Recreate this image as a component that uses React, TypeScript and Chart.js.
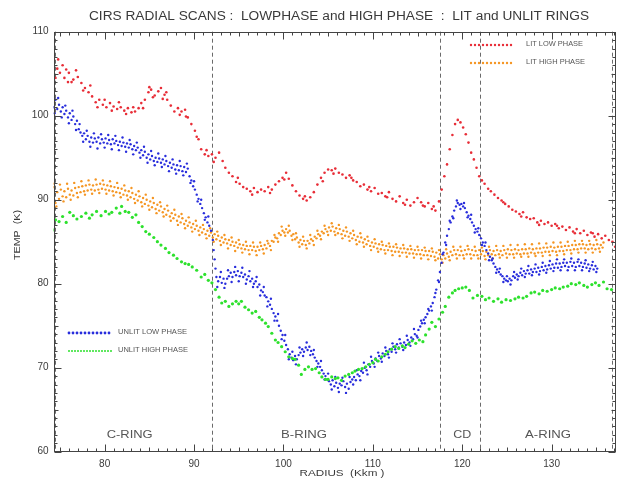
import React, { useEffect, useRef } from 'react';
import { Chart, registerables } from 'chart.js';

Chart.register(...registerables);

const X_MIN = 74.28;
const X_MAX = 137.2;
const Y_MIN = 60;
const Y_MAX = 110;
const xTicks = [80, 90, 100, 110, 120, 130];
const yTicks = [60, 70, 80, 90, 100, 110];
const ringEdges = [74.5, 92.0, 117.5, 122.0, 136.8];
const ringNames = ['C-RING', 'B-RING', 'CD', 'A-RING'];
const ringLabelX = [82.8, 102.3, 120.0, 129.6];
const ringLabelY = 62.0;

const titleText = 'CIRS RADIAL SCANS :  LOWPHASE and HIGH PHASE  :  LIT and UNLIT RINGS';
const xTitle = 'RADIUS  (Kkm )';
const yTitle = 'TEMP  (K)';
const seriesNames = ['LIT LOW PHASE', 'LIT HIGH PHASE', 'UNLIT LOW PHASE', 'UNLIT HIGH PHASE'];
const seriesColors = ['rgb(232,45,55)', 'rgb(245,150,35)', 'rgb(40,45,220)', 'rgb(45,225,45)'];

// [radius (1000 km), temperature (K)]
const litLowPhase: number[][] = [
  [74.5, 104.5], [74.8, 106.7], [75.0, 105.1], [75.3, 106.0], [75.5, 104.5], [75.7, 105.5], [76.0, 105.1], [76.3, 104.0], [76.5, 104.3],
  [77.0, 104.6], [77.4, 103.9], [77.8, 103.3], [78.2, 102.8], [78.6, 102.3], [79.0, 101.6], [79.4, 101.9], [79.8, 101.3],
  [80.2, 101.0], [80.6, 101.5], [81.0, 101.1], [81.4, 100.8], [81.8, 101.0], [82.2, 100.6], [82.6, 100.9], [83.0, 100.4],
  [83.4, 100.5], [83.8, 100.9], [84.1, 101.5], [84.5, 101.9], [84.9, 102.8], [85.2, 103.1], [85.6, 102.4], [86.0, 102.9],
  [86.3, 103.3], [86.7, 102.5], [87.0, 101.9], [87.4, 101.2], [87.8, 100.5], [88.2, 100.9], [88.6, 100.5], [89.0, 100.7],
  [89.3, 99.8], [89.7, 99.0], [90.1, 98.2], [90.5, 97.2], [90.8, 96.0], [91.2, 95.4], [91.6, 95.2], [92.0, 95.4],
  [92.4, 95.0], [92.8, 95.6], [93.2, 94.6], [93.5, 93.8], [93.9, 93.2], [94.3, 92.8], [94.7, 92.1], [95.1, 91.9],
  [95.5, 91.5], [95.9, 91.3], [96.3, 91.0], [96.7, 91.4], [97.1, 90.9], [97.5, 91.2], [97.9, 91.0], [98.3, 91.5],
  [98.7, 91.2], [99.1, 91.8], [99.5, 92.2], [99.9, 92.6], [100.3, 93.2], [100.6, 92.5], [101.0, 91.7], [101.4, 91.0],
  [101.8, 90.5], [102.2, 90.1], [102.6, 89.9], [103.0, 90.3], [103.4, 90.9], [103.8, 91.8], [104.2, 92.6], [104.6, 93.2],
  [105.0, 93.6], [105.4, 93.5], [105.8, 93.7], [106.2, 93.2], [106.6, 93.0], [107.0, 92.6], [107.4, 92.9], [107.8, 92.3],
  [108.2, 92.1], [108.6, 91.6], [109.0, 91.8], [109.4, 91.2], [109.8, 91.0], [110.2, 91.4], [110.6, 90.7], [111.0, 90.8],
  [111.4, 90.4], [111.8, 90.9], [112.2, 90.1], [112.6, 89.8], [113.0, 90.4], [113.4, 89.6], [113.8, 90.0], [114.2, 89.3],
  [114.6, 89.7], [115.0, 90.2], [115.4, 89.7], [115.8, 89.2], [116.2, 89.6], [116.6, 88.9], [117.0, 88.7], [117.4, 89.8],
  [117.7, 91.2], [118.0, 92.8], [118.3, 94.2], [118.6, 96.0], [118.9, 97.7], [119.2, 99.0], [119.5, 99.5], [119.8, 99.2],
  [120.1, 98.6], [120.4, 97.8], [120.7, 96.8], [121.0, 95.6], [121.3, 94.8], [121.6, 93.8], [121.9, 92.8], [122.2, 92.3],
  [122.5, 91.9], [122.9, 91.3], [123.2, 91.0], [123.6, 90.6], [124.0, 90.2], [124.4, 89.9], [124.8, 89.5], [125.2, 89.2],
  [125.6, 88.8], [126.0, 88.6], [126.4, 88.3], [126.8, 88.5], [127.2, 87.9], [127.6, 87.7], [128.0, 87.8], [128.4, 87.3],
  [128.8, 87.5], [129.2, 87.1], [129.6, 87.3], [130.0, 86.9], [130.4, 87.1], [130.8, 86.6], [131.2, 86.8], [131.6, 86.4],
  [132.0, 86.7], [132.4, 86.2], [132.8, 86.5], [133.2, 86.0], [133.6, 86.3], [134.0, 85.8], [134.4, 86.1], [134.8, 85.6],
  [135.2, 85.9], [135.6, 85.4], [136.0, 85.7], [136.4, 85.2], [136.8, 85.0], [137.1, 84.4],
];

const litLowPhaseScatter: number[][] = [
  [74.7, 105.6], [75.9, 104.0], [76.8, 105.4], [77.6, 103.0], [78.4, 103.6], [79.2, 101.0], [80.0, 101.9], [80.8, 100.6],
  [81.6, 101.6], [82.4, 100.2], [83.2, 101.0], [84.3, 100.9], [85.0, 103.4], [85.4, 102.2], [86.5, 102.0], [86.9, 102.8],
  [88.4, 100.1], [89.1, 99.9], [90.3, 97.5], [91.4, 95.9], [92.2, 94.5], [94.9, 92.6], [96.5, 90.6], [98.5, 90.8],
  [100.1, 92.4], [102.4, 90.4], [104.4, 92.2], [105.6, 93.1], [107.6, 92.6], [109.6, 91.5], [111.6, 90.3], [113.6, 89.4],
  [115.6, 89.3], [116.8, 89.2], [124.6, 89.7], [126.6, 88.0], [128.6, 87.0], [130.6, 86.9], [132.6, 86.0], [134.6, 86.0],
];

const litHighPhase: number[][] = [
  [74.1, 90.2], [74.3, 91.5], [74.5, 89.6], [74.7, 90.9], [74.9, 90.1], [75.1, 91.2], [75.3, 90.4], [75.5, 91.0], [75.7, 90.3],
  [75.9, 91.3], [76.1, 90.6], [76.3, 91.1], [76.5, 90.5], [76.7, 91.4], [76.9, 90.8], [77.1, 91.5], [77.3, 90.9], [77.5, 91.6],
  [77.7, 91.0], [77.9, 91.7], [78.1, 91.1], [78.3, 91.8], [78.5, 91.2], [78.7, 91.7], [78.9, 91.1], [79.1, 91.8], [79.3, 91.2],
  [79.5, 91.9], [79.7, 91.3], [79.9, 91.8], [80.1, 91.2], [80.3, 91.7], [80.5, 91.1], [80.7, 91.6], [80.9, 91.0], [81.1, 91.5],
  [81.3, 90.9], [81.5, 91.4], [81.7, 90.8], [81.9, 91.3], [82.1, 90.6], [82.3, 91.1], [82.5, 90.5], [82.7, 91.0], [82.9, 90.3],
  [83.1, 90.8], [83.3, 90.1], [83.5, 90.6], [83.7, 89.9], [83.9, 90.4], [84.1, 89.7], [84.3, 90.2], [84.5, 89.5], [84.7, 90.0],
  [84.9, 89.3], [85.1, 89.8], [85.3, 89.1], [85.5, 89.6], [85.7, 88.9], [85.9, 89.4], [86.1, 88.7], [86.3, 89.2], [86.5, 88.5],
  [86.7, 88.9], [86.9, 88.2], [87.1, 88.7], [87.3, 88.0], [87.5, 88.4], [87.7, 87.8], [87.9, 88.2], [88.1, 87.5], [88.3, 88.0],
  [88.5, 87.3], [88.7, 87.8], [88.9, 87.1], [89.1, 87.5], [89.3, 86.9], [89.5, 87.3], [89.7, 86.7], [89.9, 87.1], [90.1, 86.5],
  [90.3, 86.9], [90.5, 86.3], [90.7, 86.7], [90.9, 86.1], [91.1, 86.5], [91.3, 85.9], [91.5, 86.3], [91.7, 85.7], [91.9, 86.1],
  [92.1, 85.5], [92.3, 85.9], [92.5, 85.3], [92.7, 85.7], [92.9, 85.1], [93.1, 85.5], [93.3, 84.9], [93.5, 85.3], [93.7, 84.8],
  [93.9, 85.2], [94.1, 84.6], [94.3, 85.0], [94.5, 84.5], [94.7, 84.9], [94.9, 84.3], [95.1, 84.7], [95.3, 84.2], [95.5, 84.6],
  [95.7, 84.1], [95.9, 84.5], [96.1, 84.0], [96.3, 84.5], [96.5, 84.0], [96.7, 84.4], [96.9, 83.9], [97.1, 84.4], [97.3, 84.0],
  [97.5, 84.5], [97.7, 84.1], [97.9, 84.6], [98.1, 84.2], [98.3, 84.8], [98.5, 84.5], [98.7, 85.1], [98.9, 85.0], [99.1, 85.5],
  [99.3, 85.4], [99.5, 86.0], [99.7, 85.8], [99.9, 86.3], [100.1, 86.1], [100.3, 86.5], [100.5, 86.1], [100.7, 86.3], [100.9, 85.7],
  [101.1, 85.9], [101.3, 85.3], [101.5, 85.5], [101.7, 84.9], [101.9, 85.2], [102.1, 84.7], [102.3, 85.1], [102.5, 84.6], [102.7, 85.1],
  [102.9, 84.8], [103.1, 85.3], [103.3, 85.1], [103.5, 85.6], [103.7, 85.4], [103.9, 85.9], [104.1, 85.7], [104.3, 86.2], [104.5, 86.0],
  [104.7, 86.5], [104.9, 86.2], [105.1, 86.7], [105.3, 86.3], [105.5, 86.8], [105.7, 86.2], [105.9, 86.6], [106.1, 86.0], [106.3, 86.5],
  [106.5, 85.9], [106.7, 86.3], [106.9, 85.7], [107.1, 86.2], [107.3, 85.6], [107.5, 86.0], [107.7, 85.4], [107.9, 85.8], [108.1, 85.2],
  [108.3, 85.6], [108.5, 85.0], [108.7, 85.5], [108.9, 84.9], [109.1, 85.3], [109.3, 84.7], [109.5, 85.1], [109.7, 84.5], [109.9, 84.9],
  [110.1, 84.4], [110.3, 84.8], [110.5, 84.2], [110.7, 84.7], [110.9, 84.1], [111.1, 84.6], [111.3, 84.0], [111.5, 84.5], [111.7, 84.0],
  [111.9, 84.4], [112.1, 83.9], [112.3, 84.4], [112.5, 83.8], [112.7, 84.3], [112.9, 83.8], [113.1, 84.2], [113.3, 83.7], [113.5, 84.2],
  [113.7, 83.7], [113.9, 84.1], [114.1, 83.6], [114.3, 84.1], [114.5, 83.6], [114.7, 84.0], [114.9, 83.5], [115.1, 84.0], [115.3, 83.5],
  [115.5, 84.0], [115.7, 83.4], [115.9, 83.9], [116.1, 83.4], [116.3, 83.9], [116.5, 83.3], [116.7, 83.8], [116.9, 83.2], [117.1, 83.7],
  [117.3, 83.0], [117.5, 83.5], [117.7, 82.9], [117.9, 83.4], [118.1, 83.0], [118.3, 83.6], [118.5, 83.2], [118.7, 83.8], [118.9, 83.4],
  [119.1, 84.0], [119.3, 83.5], [119.5, 84.0], [119.7, 83.4], [119.9, 83.9], [120.1, 83.4], [120.3, 84.0], [120.5, 83.5], [120.7, 84.1],
  [120.9, 83.5], [121.1, 84.0], [121.3, 83.4], [121.5, 83.9], [121.7, 83.4], [121.9, 84.0], [122.1, 83.5], [122.3, 83.9], [122.5, 83.3],
  [122.7, 83.8], [122.9, 83.4], [123.1, 84.0], [123.3, 83.5], [123.5, 83.9], [123.7, 83.4], [123.9, 84.0], [124.1, 83.5], [124.3, 83.9],
  [124.5, 83.4], [124.7, 84.0], [124.9, 83.6], [125.1, 84.1], [125.3, 83.5], [125.5, 84.0], [125.7, 83.5], [125.9, 84.1], [126.1, 83.6],
  [126.3, 84.0], [126.5, 83.5], [126.7, 84.1], [126.9, 83.6], [127.1, 84.1], [127.3, 83.6], [127.5, 84.2], [127.7, 83.7], [127.9, 84.1],
  [128.1, 83.6], [128.3, 84.2], [128.5, 83.7], [128.7, 84.2], [128.9, 83.7], [129.1, 84.3], [129.3, 83.8], [129.5, 84.3], [129.7, 83.8],
  [129.9, 84.4], [130.1, 83.9], [130.3, 84.3], [130.5, 83.8], [130.7, 84.4], [130.9, 83.9], [131.1, 84.4], [131.3, 83.9], [131.5, 84.5],
  [131.7, 84.0], [131.9, 84.5], [132.1, 84.0], [132.3, 84.6], [132.5, 84.1], [132.7, 84.6], [132.9, 84.1], [133.1, 84.7], [133.3, 84.2],
  [133.5, 84.7], [133.7, 84.2], [133.9, 84.6], [134.1, 84.1], [134.3, 84.7], [134.5, 84.2], [134.7, 84.6], [134.9, 84.1], [135.1, 84.7],
  [135.3, 84.2], [135.5, 84.6], [135.7, 84.3],
];

const litHighPhaseScatter: number[][] = [
  [74.2, 91.9], [74.6, 89.2], [75.0, 91.8], [75.4, 89.8], [75.8, 91.9], [76.2, 90.0], [76.6, 92.0], [77.0, 90.3], [77.4, 92.2],
  [77.8, 90.6], [78.2, 92.3], [78.6, 90.7], [79.0, 92.4], [79.4, 90.8], [79.8, 92.3], [80.2, 90.7], [80.6, 92.2], [81.0, 90.5],
  [81.4, 92.0], [81.8, 90.3], [82.2, 91.7], [82.6, 90.0], [83.0, 91.4], [83.4, 89.6], [83.8, 91.0], [84.2, 89.2], [84.6, 90.6],
  [85.0, 88.8], [85.4, 90.2], [85.8, 88.4], [86.2, 89.7], [86.6, 88.0], [87.0, 89.3], [87.4, 87.5], [87.8, 88.8], [88.2, 87.0],
  [88.6, 88.3], [89.0, 86.6], [89.4, 87.9], [89.8, 86.2], [90.2, 87.5], [90.6, 85.8], [91.0, 87.0], [91.4, 85.4], [91.8, 86.6],
  [92.2, 85.0], [92.6, 86.2], [93.0, 84.6], [93.4, 85.8], [93.8, 84.2], [94.2, 85.5], [94.6, 83.9], [95.0, 85.2], [95.4, 83.7],
  [95.8, 85.0], [96.2, 83.5], [96.6, 84.9], [97.0, 83.4], [97.4, 84.9], [97.8, 83.6], [98.2, 85.1], [98.6, 84.0], [99.0, 85.8],
  [99.4, 85.0], [99.8, 86.8], [100.2, 85.7], [100.6, 86.9], [101.0, 85.2], [101.4, 86.0], [101.8, 84.4], [102.2, 85.6], [102.6, 84.2],
  [103.0, 85.8], [103.4, 84.6], [103.8, 86.3], [104.2, 85.3], [104.6, 86.9], [105.0, 85.8], [105.4, 87.2], [105.8, 85.8], [106.2, 87.0],
  [106.6, 85.4], [107.0, 86.7], [107.4, 85.1], [107.8, 86.3], [108.2, 84.7], [108.6, 86.0], [109.0, 84.4], [109.4, 85.6], [109.8, 84.0],
  [110.2, 85.3], [110.6, 83.8], [111.0, 85.0], [111.4, 83.6], [111.8, 84.8], [112.2, 83.4], [112.6, 84.7], [113.0, 83.3], [113.4, 84.6],
  [113.8, 83.2], [114.2, 84.5], [114.6, 83.1], [115.0, 84.4], [115.4, 83.0], [115.8, 84.3], [116.2, 82.9], [116.6, 84.2], [117.0, 82.8],
  [117.4, 84.0], [117.8, 82.5], [118.2, 84.1], [118.6, 82.8], [119.0, 84.4], [119.4, 83.0], [119.8, 84.4], [120.2, 83.0], [120.6, 84.5],
  [121.0, 83.0], [121.4, 84.4], [121.8, 83.0], [122.2, 84.3], [122.6, 82.9], [123.0, 84.4], [123.4, 83.0], [123.8, 84.5], [124.2, 83.1],
  [124.6, 84.5], [125.0, 83.1], [125.4, 84.6], [125.8, 83.1], [126.2, 84.6], [126.6, 83.2], [127.0, 84.7], [127.4, 83.2], [127.8, 84.7],
  [128.2, 83.3], [128.6, 84.8], [129.0, 83.3], [129.4, 84.8], [129.8, 83.4], [130.2, 84.9], [130.6, 83.4], [131.0, 84.9], [131.4, 83.5],
  [131.8, 85.0], [132.2, 83.6], [132.6, 85.1], [133.0, 83.7], [133.4, 85.1], [133.8, 83.7], [134.2, 85.1], [134.6, 83.7], [135.0, 85.2],
  [135.4, 83.8], [135.8, 84.9],
];

const unlitLowPhase: number[][] = [
  [74.1, 101.6], [74.3, 101.0], [74.5, 101.9], [74.7, 100.8], [74.9, 101.3], [75.1, 100.5], [75.3, 101.0], [75.5, 100.2], [75.7, 100.6],
  [75.9, 99.8], [76.1, 100.3], [76.3, 99.5], [76.5, 99.9], [76.7, 99.0], [76.9, 99.4], [77.1, 98.4], [77.3, 98.0], [77.5, 97.6],
  [77.7, 97.9], [77.9, 97.2], [78.1, 97.6], [78.3, 96.9], [78.5, 97.4], [78.7, 96.8], [78.9, 97.3], [79.1, 96.9], [79.3, 97.4],
  [79.5, 96.7], [79.7, 97.2], [79.9, 96.8], [80.1, 97.3], [80.3, 96.7], [80.5, 97.1], [80.7, 96.6], [80.9, 97.2], [81.1, 96.7],
  [81.3, 97.0], [81.5, 96.5], [81.7, 96.9], [81.9, 96.4], [82.1, 96.8], [82.3, 96.3], [82.5, 96.7], [82.7, 96.2], [82.9, 96.6],
  [83.1, 96.0], [83.3, 96.4], [83.5, 95.9], [83.7, 96.2], [83.9, 95.6], [84.1, 95.9], [84.3, 95.3], [84.5, 95.7], [84.7, 95.0],
  [84.9, 95.4], [85.1, 94.8], [85.3, 95.2], [85.5, 94.6], [85.7, 95.0], [85.9, 94.5], [86.1, 94.9], [86.3, 94.4], [86.5, 94.8],
  [86.7, 94.2], [86.9, 94.6], [87.1, 94.0], [87.3, 94.4], [87.5, 93.8], [87.7, 94.2], [87.9, 93.6], [88.1, 94.1], [88.3, 93.5],
  [88.5, 94.0], [88.7, 93.4], [88.9, 93.9], [89.1, 93.3], [89.3, 93.7], [89.5, 92.8], [89.7, 92.3], [89.9, 91.6], [90.1, 91.2],
  [90.3, 90.6], [90.5, 90.1], [90.7, 89.5], [90.9, 89.0], [91.1, 88.4], [91.3, 87.9], [91.5, 87.3], [91.7, 86.9], [91.9, 86.3],
  [92.1, 85.2], [92.2, 84.0], [92.3, 82.9], [92.4, 81.8], [92.5, 80.8], [92.7, 80.3], [92.9, 80.8], [93.1, 80.1], [93.3, 80.6],
  [93.5, 80.0], [93.7, 80.6], [93.9, 80.9], [94.1, 81.3], [94.3, 80.8], [94.5, 81.4], [94.7, 81.0], [94.9, 81.5], [95.1, 80.9],
  [95.3, 81.3], [95.5, 80.8], [95.7, 81.1], [95.9, 80.5], [96.1, 80.9], [96.3, 80.3], [96.5, 80.6], [96.7, 80.0], [96.9, 80.3],
  [97.1, 79.6], [97.3, 79.9], [97.5, 79.2], [97.7, 79.0], [97.9, 78.6], [98.1, 78.4], [98.3, 77.9], [98.5, 77.5], [98.7, 77.0],
  [98.9, 76.5], [99.1, 76.1], [99.3, 75.6], [99.5, 75.0], [99.7, 74.4], [99.9, 73.9], [100.1, 73.2], [100.3, 72.7], [100.5, 72.2],
  [100.7, 71.6], [100.9, 71.2], [101.1, 70.9], [101.3, 71.4], [101.5, 71.0], [101.7, 71.5], [101.9, 71.8], [102.1, 72.2], [102.3, 71.9],
  [102.5, 72.4], [102.7, 72.1], [102.9, 72.5], [103.1, 72.0], [103.3, 71.6], [103.5, 71.2], [103.7, 70.8], [103.9, 70.5], [104.1, 70.1],
  [104.3, 69.7], [104.5, 69.3], [104.7, 69.0], [104.9, 68.6], [105.1, 68.4], [105.3, 68.0], [105.5, 68.5], [105.7, 67.8], [105.9, 68.2],
  [106.1, 67.6], [106.3, 68.1], [106.5, 67.9], [106.7, 68.4], [106.9, 67.7], [107.1, 68.1], [107.3, 67.5], [107.5, 68.3], [107.7, 68.6],
  [107.9, 68.9], [108.1, 68.5], [108.3, 69.2], [108.5, 69.0], [108.7, 69.6], [108.9, 69.4], [109.1, 70.0], [109.3, 69.7], [109.5, 70.4],
  [109.7, 70.1], [109.9, 70.8], [110.1, 70.5], [110.3, 71.1], [110.5, 70.8], [110.7, 71.4], [110.9, 71.1], [111.1, 71.7], [111.3, 71.4],
  [111.5, 72.0], [111.7, 71.6], [111.9, 72.2], [112.1, 71.9], [112.3, 72.5], [112.5, 72.2], [112.7, 72.8], [112.9, 72.4], [113.1, 72.9],
  [113.3, 72.5], [113.5, 73.0], [113.7, 72.7], [113.9, 73.3], [114.1, 73.0], [114.3, 73.6], [114.5, 73.4], [114.7, 74.0], [114.9, 73.8],
  [115.1, 74.5], [115.3, 74.9], [115.5, 75.3], [115.7, 75.7], [115.9, 76.0], [116.1, 76.4], [116.3, 76.8], [116.5, 77.3], [116.7, 77.7],
  [116.9, 78.4], [117.1, 79.3], [117.3, 80.4], [117.5, 81.4], [117.7, 82.5], [117.9, 83.7], [118.1, 84.9], [118.3, 85.7], [118.5, 86.5],
  [118.7, 87.3], [118.9, 88.0], [119.1, 88.7], [119.3, 89.2], [119.5, 89.6], [119.7, 89.4], [119.9, 89.5], [120.1, 89.2], [120.3, 89.0],
  [120.5, 88.5], [120.7, 88.1], [120.9, 87.7], [121.1, 87.3], [121.3, 86.9], [121.5, 86.5], [121.7, 86.2], [121.9, 85.8], [122.1, 85.4],
  [122.3, 84.9], [122.5, 84.5], [122.7, 84.0], [122.9, 83.6], [123.1, 83.2], [123.3, 82.8], [123.5, 82.4], [123.7, 82.0], [123.9, 81.7],
  [124.1, 81.4], [124.3, 81.1], [124.5, 80.9], [124.7, 80.6], [124.9, 80.4], [125.1, 80.3], [125.3, 80.6], [125.5, 80.4], [125.7, 80.9],
  [125.9, 80.7], [126.1, 81.1], [126.3, 80.9], [126.5, 81.3], [126.7, 81.0], [126.9, 81.5], [127.1, 81.2], [127.3, 81.6], [127.5, 81.2],
  [127.7, 81.7], [127.9, 81.4], [128.1, 81.8], [128.3, 81.4], [128.5, 81.9], [128.7, 81.5], [128.9, 82.0], [129.1, 81.6], [129.3, 82.1],
  [129.5, 81.7], [129.7, 82.2], [129.9, 81.8], [130.1, 82.3], [130.3, 81.9], [130.5, 82.4], [130.7, 81.9], [130.9, 82.4], [131.1, 82.0],
  [131.3, 82.5], [131.5, 82.1], [131.7, 82.5], [131.9, 82.0], [132.1, 82.6], [132.3, 82.1], [132.5, 82.5], [132.7, 82.0], [132.9, 82.6],
  [133.1, 82.1], [133.3, 82.5], [133.5, 82.0], [133.7, 82.4], [133.9, 81.9], [134.1, 82.3], [134.3, 81.8], [134.5, 82.2], [134.7, 81.7],
  [134.9, 82.1], [135.1, 81.8],
];

const unlitLowPhaseScatter: number[][] = [
  [74.4, 100.3], [74.8, 102.1], [75.2, 99.8], [75.6, 101.2], [76.0, 99.1], [76.4, 100.6], [76.8, 98.3], [77.2, 99.0], [77.6, 96.9],
  [78.0, 98.2], [78.4, 96.3], [78.8, 97.9], [79.2, 96.1], [79.6, 97.8], [80.0, 96.2], [80.4, 97.7], [80.8, 96.0], [81.2, 97.6],
  [81.6, 95.9], [82.0, 97.4], [82.4, 95.7], [82.8, 97.1], [83.2, 95.4], [83.6, 96.8], [84.0, 95.0], [84.4, 96.3], [84.8, 94.4],
  [85.2, 95.8], [85.6, 94.1], [86.0, 95.5], [86.4, 93.9], [86.8, 95.2], [87.2, 93.4], [87.6, 94.8], [88.0, 93.1], [88.4, 94.6],
  [88.8, 92.9], [89.2, 94.3], [89.6, 92.0], [90.0, 92.2], [90.4, 89.8], [90.8, 90.0], [91.2, 87.6], [91.6, 88.0], [92.6, 79.6],
  [93.0, 81.4], [93.4, 79.5], [93.8, 81.6], [94.2, 80.2], [94.6, 82.0], [95.0, 80.3], [95.4, 81.9], [95.8, 80.0], [96.2, 81.5],
  [96.6, 79.6], [97.0, 80.8], [97.4, 78.6], [97.8, 79.6], [98.2, 77.3], [98.6, 78.2], [99.0, 75.6], [99.4, 76.4], [99.8, 73.4],
  [100.2, 73.9], [100.6, 71.0], [101.0, 71.9], [101.4, 70.4], [101.8, 72.4], [102.2, 71.4], [102.6, 73.0], [103.0, 71.5], [103.4, 72.1],
  [103.8, 70.1], [104.2, 70.8], [104.6, 68.6], [105.0, 69.3], [105.4, 67.4], [105.8, 68.9], [106.2, 67.1], [106.6, 68.8], [107.0, 67.0],
  [107.4, 68.9], [107.8, 68.0], [108.2, 69.7], [108.6, 68.5], [109.0, 70.6], [109.4, 69.2], [109.8, 71.3], [110.2, 70.1], [110.6, 71.8],
  [111.0, 70.7], [111.4, 72.4], [111.8, 71.2], [112.2, 72.9], [112.6, 71.8], [113.0, 73.4], [113.4, 72.1], [113.8, 73.8], [114.2, 72.6],
  [114.6, 74.6], [115.0, 73.6], [115.4, 75.6], [115.8, 75.3], [116.2, 77.0], [116.6, 76.8], [117.0, 78.9], [117.4, 80.2], [117.8, 83.5],
  [118.2, 84.6], [118.6, 87.5], [119.0, 87.8], [119.4, 89.9], [119.8, 88.9], [120.2, 89.6], [120.6, 87.9], [121.0, 88.2], [121.4, 86.1],
  [121.8, 86.6], [122.2, 84.6], [122.6, 84.9], [123.0, 82.8], [123.4, 83.0], [123.8, 81.3], [124.2, 81.8], [124.6, 80.2], [125.0, 80.9],
  [125.4, 79.9], [125.8, 81.4], [126.2, 80.5], [126.6, 81.8], [127.0, 80.8], [127.4, 82.1], [127.8, 81.0], [128.2, 82.3], [128.6, 81.1],
  [129.0, 82.5], [129.4, 81.3], [129.8, 82.7], [130.2, 81.5], [130.6, 82.9], [131.0, 81.6], [131.4, 82.9], [131.8, 81.6], [132.2, 83.0],
  [132.6, 81.6], [133.0, 82.9], [133.4, 81.6], [133.8, 82.8], [134.2, 81.5], [134.6, 82.6], [135.0, 81.4],
];

const unlitHighPhase: number[][] = [
  [74.2, 86.4], [74.5, 87.6], [74.9, 87.4], [75.3, 88.0], [75.7, 87.3], [76.1, 88.5], [76.5, 88.1], [76.9, 87.7], [77.4, 88.0],
  [77.9, 88.4], [78.3, 87.8], [78.6, 88.2], [79.1, 88.6], [79.6, 88.1], [80.1, 88.6], [80.5, 88.3], [80.8, 88.5], [81.3, 89.0],
  [81.7, 88.4], [81.9, 89.2], [82.3, 88.6], [82.7, 88.5], [83.1, 87.9], [83.5, 88.2], [83.8, 87.3], [84.2, 86.8], [84.6, 86.2],
  [85.0, 85.9], [85.5, 85.5], [85.9, 85.0], [86.3, 84.6], [86.8, 84.2], [87.2, 83.7], [87.7, 83.4], [88.1, 83.0], [88.6, 82.6],
  [89.0, 82.4], [89.4, 82.3], [89.8, 82.0], [90.3, 81.6], [90.8, 80.8], [91.2, 81.1], [91.6, 80.4], [92.0, 80.1], [92.4, 79.3],
  [92.8, 78.4], [93.1, 77.7], [93.5, 77.9], [93.9, 77.3], [94.3, 77.6], [94.7, 77.9], [95.0, 77.6], [95.3, 77.9], [95.7, 77.2],
  [96.1, 76.9], [96.5, 76.5], [96.9, 76.7], [97.3, 76.0], [97.6, 75.7], [98.0, 75.3], [98.3, 74.9], [98.7, 74.1], [99.1, 73.3],
  [99.4, 73.0], [99.8, 72.5], [100.2, 71.9], [100.6, 71.3], [101.0, 71.1], [101.3, 71.0], [101.7, 70.3], [102.0, 69.2], [102.4, 69.8],
  [102.8, 70.1], [103.2, 69.8], [103.6, 69.9], [104.0, 69.4], [104.3, 68.9], [104.7, 68.6], [105.0, 68.6], [105.4, 68.9], [105.8, 68.7],
  [106.1, 68.8], [106.5, 68.5], [106.9, 69.0], [107.3, 69.2], [107.7, 69.4], [108.0, 69.6], [108.4, 69.8], [108.8, 69.9], [109.2, 70.1],
  [109.6, 70.4], [110.0, 70.6], [110.3, 71.0], [110.6, 70.8], [111.0, 71.3], [111.4, 71.6], [111.7, 71.9], [112.1, 72.2], [112.5, 72.5],
  [112.9, 72.3], [113.3, 72.6], [113.6, 72.4], [114.0, 72.8], [114.4, 73.2], [114.8, 72.9], [115.2, 73.3], [115.6, 73.1], [115.9, 73.9],
  [116.3, 74.6], [116.6, 75.4], [117.0, 74.9], [117.4, 75.8], [117.8, 76.6], [118.1, 77.3], [118.5, 78.4], [118.9, 78.9], [119.2, 79.2],
  [119.6, 79.4], [120.0, 79.5], [120.4, 79.6], [120.8, 79.2], [121.2, 78.3], [121.7, 78.6], [122.2, 78.5], [122.6, 78.1], [123.0, 78.3],
  [123.5, 77.9], [124.0, 78.2], [124.4, 77.8], [124.9, 78.1], [125.4, 78.0], [125.9, 78.2], [126.3, 78.4], [126.8, 78.3], [127.2, 78.5],
  [127.7, 78.9], [128.1, 79.0], [128.6, 78.8], [129.0, 79.2], [129.5, 79.1], [130.0, 79.3], [130.4, 79.5], [130.9, 79.4], [131.3, 79.6],
  [131.8, 79.7], [132.2, 80.0], [132.7, 79.9], [133.1, 80.1], [133.6, 79.8], [134.0, 79.6], [134.5, 79.9], [134.9, 80.1], [135.3, 79.8],
  [135.8, 80.2], [136.2, 79.4], [136.7, 79.3],
];

const FONT = '"Liberation Sans", Arial, sans-serif';
const INK = '#3a3a3a';

function fitText(ctx: CanvasRenderingContext2D, text: string, x: number, y: number, w: number, size: number, align: 'left' | 'center') {
  ctx.save();
  ctx.font = `${size}px ${FONT}`;
  const m = ctx.measureText(text).width || 1;
  const s = w / m;
  ctx.translate(x, y);
  ctx.scale(s, 1);
  ctx.textAlign = align;
  ctx.textBaseline = 'middle';
  ctx.fillText(text, 0, 0);
  ctx.restore();
}

function swatch(ctx: CanvasRenderingContext2D, x0: number, x1: number, y: number, color: string, r: number, step: number) {
  ctx.save();
  ctx.fillStyle = color;
  for (let x = x0; x <= x1; x += step) {
    ctx.beginPath();
    ctx.arc(x, y, r, 0, Math.PI * 2);
    ctx.fill();
  }
  ctx.restore();
}

const decorPlugin = {
  id: 'decor',
  beforeDraw(chart: any) {
    const { ctx, width, height } = chart;
    ctx.save();
    ctx.fillStyle = '#ffffff';
    ctx.fillRect(0, 0, width, height);
    ctx.restore();
  },
  beforeDatasetsDraw(chart: any) {
    const { ctx, chartArea: a, scales } = chart;
    const x = scales.x;
    ctx.save();
    ctx.strokeStyle = '#6a6a6a';
    ctx.lineWidth = 1;
    ctx.setLineDash([4, 3]);
    ringEdges.forEach((r) => {
      const px = Math.round(x.getPixelForValue(r)) + 0.5;
      ctx.beginPath();
      ctx.moveTo(px, a.top);
      ctx.lineTo(px, a.bottom);
      ctx.stroke();
    });
    ctx.restore();
  },
  afterDraw(chart: any) {
    const { ctx, chartArea: a, scales } = chart;
    const x = scales.x;
    const y = scales.y;
    ctx.save();
    ctx.strokeStyle = '#444';
    ctx.lineWidth = 1;
    const L = Math.round(a.left) + 0.5;
    const R = Math.round(a.right) - 0.5;
    const T = Math.round(a.top) + 0.5;
    const B = Math.round(a.bottom) - 0.5;
    ctx.strokeRect(L, T, R - L, B - T);
    ctx.beginPath();
    for (let v = Math.ceil(X_MIN); v <= Math.floor(X_MAX); v++) {
      const len = v % 10 === 0 ? 7 : v % 5 === 0 ? 4 : 3;
      const px = Math.round(x.getPixelForValue(v)) + 0.5;
      ctx.moveTo(px, B); ctx.lineTo(px, B - len);
      ctx.moveTo(px, T); ctx.lineTo(px, T + len);
    }
    for (let v = Y_MIN; v <= Y_MAX; v++) {
      const len = v % 10 === 0 ? 7 : v % 5 === 0 ? 4 : 3;
      const py = Math.round(y.getPixelForValue(v)) + 0.5;
      ctx.moveTo(L, py); ctx.lineTo(L + len, py);
      ctx.moveTo(R, py); ctx.lineTo(R - len, py);
    }
    ctx.stroke();
    ctx.restore();

    ctx.save();
    ctx.fillStyle = INK;
    fitText(ctx, titleText, 339, 17, 500, 12, 'center');
    fitText(ctx, xTitle, 342, 474, 85, 9, 'center');
    ctx.save();
    ctx.translate(18, 235);
    ctx.rotate(-Math.PI / 2);
    fitText(ctx, yTitle, 0, 0, 50, 9, 'center');
    ctx.restore();
    ctx.fillStyle = '#555';
    const ringW = [46, 46, 18, 46];
    ringNames.forEach((n, i) => {
      fitText(ctx, n, x.getPixelForValue(ringLabelX[i]), y.getPixelForValue(ringLabelY), ringW[i], 11, 'center');
    });
    ctx.fillStyle = '#555';
    swatch(ctx, 471, 513, 45, seriesColors[0], 1.2, 4);
    fitText(ctx, seriesNames[0], 526, 44, 57, 8, 'left');
    swatch(ctx, 471, 513, 63, seriesColors[1], 1.2, 4);
    fitText(ctx, seriesNames[1], 526, 62, 59, 8, 'left');
    swatch(ctx, 69, 112, 333, seriesColors[2], 1.4, 4);
    fitText(ctx, seriesNames[2], 118, 332, 69, 8, 'left');
    swatch(ctx, 69, 112, 351, seriesColors[3], 1.0, 3);
    fitText(ctx, seriesNames[3], 118, 350, 70, 8, 'left');
    ctx.restore();
  },
};

const toPts = (arr: number[][]) => arr.map(([r, t]) => ({ x: r, y: t }));

export default function App() {
  const ref = useRef<HTMLCanvasElement | null>(null);
  useEffect(() => {
    if (!ref.current) return;
    const chart = new Chart(ref.current, {
      type: 'scatter',
      data: {
        datasets: [
          { label: seriesNames[3], data: toPts(unlitHighPhase), backgroundColor: seriesColors[3], pointRadius: 1.6, borderWidth: 0, order: 0 },
          { label: seriesNames[2], data: toPts([...unlitLowPhase, ...unlitLowPhaseScatter]), backgroundColor: seriesColors[2], pointRadius: 1.2, borderWidth: 0, order: 1 },
          { label: seriesNames[0], data: toPts([...litLowPhase, ...litLowPhaseScatter]), backgroundColor: seriesColors[0], pointRadius: 1.3, borderWidth: 0, order: 2 },
          { label: seriesNames[1], data: toPts([...litHighPhase, ...litHighPhaseScatter]), backgroundColor: seriesColors[1], pointRadius: 1.2, borderWidth: 0, order: 3 },
        ],
      },
      options: {
        animation: false,
        responsive: false,
        devicePixelRatio: 1,
        events: [],
        layout: { padding: { top: 31.7, right: 0, bottom: 0, left: 0 } },
        plugins: { legend: { display: false }, tooltip: { enabled: false }, title: { display: false } },
        scales: {
          x: {
            type: 'linear',
            min: X_MIN,
            max: X_MAX,
            grid: { display: false, drawTicks: false },
            border: { display: false },
            afterBuildTicks: (s: any) => { s.ticks = xTicks.map((v) => ({ value: v })); },
            afterFit: (s: any) => { s.height = 27.3; },
            ticks: { color: INK, font: { family: FONT, size: 10 }, padding: 7, maxRotation: 0, autoSkip: false },
          },
          y: {
            type: 'linear',
            min: Y_MIN,
            max: Y_MAX,
            grid: { display: false, drawTicks: false },
            border: { display: false },
            afterBuildTicks: (s: any) => { s.ticks = yTicks.map((v) => ({ value: v })); },
            afterFit: (s: any) => { s.width = 53.5; },
            ticks: { color: INK, font: { family: FONT, size: 10 }, padding: 5, autoSkip: false },
          },
        },
      },
      plugins: [decorPlugin],
    } as any);
    return () => chart.destroy();
  }, []);
  return (
    <div style={{ position: 'fixed', left: 0, top: 0, width: 620, height: 479, background: '#fff' }}>
      <canvas ref={ref} width={620} height={479} style={{ display: 'block' }} />
    </div>
  );
}
